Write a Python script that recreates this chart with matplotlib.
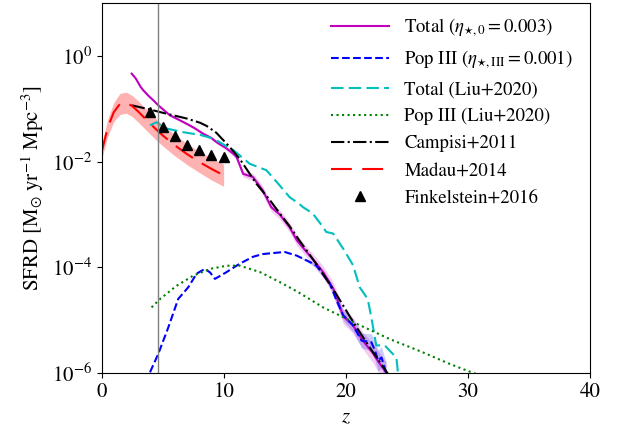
import matplotlib
matplotlib.use("Agg")
import matplotlib.pyplot as plt
import numpy as np

plt.rcParams['font.family'] = 'STIXGeneral'
plt.rcParams['mathtext.fontset'] = 'stix'

# Total SFRD from this model (log10 of Msun/yr/Mpc^3)
z_tot = [2.47, 2.8, 3.2, 3.42, 3.8, 4.24, 4.65, 5.1, 5.6, 6.3, 6.97, 7.6, 8.33, 9.0, 9.43, 10.2, 10.8,
         11.06, 11.6, 12.4, 13.2, 13.9, 14.6, 15.4, 16.0, 16.8, 17.6, 18.15, 18.97, 19.25, 19.8,
         20.6, 21.4, 22.2, 22.8, 23.3]
sfrd_tot = [-0.33, -0.42, -0.58, -0.645, -0.74, -0.835, -0.93, -1.02, -1.12, -1.20, -1.28, -1.36, -1.47,
            -1.55, -1.63, -1.74, -1.85, -1.91, -2.23, -2.29, -2.54, -2.86, -3.00, -3.24, -3.49, -3.71,
            -3.93, -4.09, -4.40, -4.57, -4.93, -5.10, -5.39, -5.62, -5.83, -5.99]
err_tot = [0.02, 0.02, 0.02, 0.02, 0.02, 0.02, 0.02, 0.02, 0.02, 0.02, 0.02, 0.02, 0.03, 0.03, 0.03,
           0.04, 0.04, 0.05, 0.06, 0.07, 0.08, 0.08, 0.09, 0.09, 0.10, 0.10, 0.11, 0.11, 0.12, 0.13,
           0.14, 0.15, 0.16, 0.18, 0.2, 0.2]

# Pop III SFRD from this model
z_p3 = [3.97, 4.65, 5.47, 6.28, 7.1, 7.79, 8.47, 8.9, 9.29, 10.25, 11.33, 12.42, 13.2, 14.06, 15.0,
        16.0, 17.06, 17.6, 17.9, 18.7, 19.25, 19.8, 20.6, 21.3, 22.1, 22.4, 22.65, 22.93, 23.3]
sfrd_p3 = [-5.99, -5.64, -5.14, -4.60, -4.38, -4.12, -4.03, -4.10, -4.22, -4.09, -3.93, -3.80, -3.75,
           -3.73, -3.71, -3.78, -3.90, -3.97, -4.06, -4.31, -4.63, -4.91, -5.10, -5.39, -5.42, -5.58,
           -5.77, -5.71, -5.99]
err_p3 = [0, 0, 0, 0, 0, 0, 0, 0, 0, 0, 0, 0, 0, 0, 0, 0, 0.03, 0.04, 0.05, 0.06, 0.08, 0.10, 0.12,
          0.14, 0.16, 0.18, 0.2, 0.2, 0.2]

# Liu & Bromm 2020
z_liu = [3.97, 4.5, 4.8, 5.33, 6.7, 8.06, 9.15, 10.5, 10.8, 12.15, 13.5, 14.6, 15.4, 16.2, 16.5, 17.3,
         18.15, 18.4, 18.97, 19.8, 20.6, 21.15, 21.8, 22.1, 22.5, 23.2, 23.6, 24.15, 24.3]
sfrd_liu = [-1.31, -1.25, -1.30, -1.37, -1.44, -1.49, -1.56, -1.74, -1.78, -2.04, -2.16, -2.45, -2.67,
            -2.80, -2.86, -2.98, -3.24, -3.33, -3.36, -3.65, -3.96, -4.38, -4.60, -4.95, -5.48, -5.48,
            -5.58, -5.71, -6.05]
z_liu3 = [4.1, 4.8, 6.15, 7.5, 8.9, 10.25, 11.33, 12.97, 14.6, 16.1, 18.15, 20.9, 23.6, 26.3, 28.5,
          30.3, 31.0]
sfrd_liu3 = [-4.76, -4.60, -4.35, -4.16, -4.03, -3.97, -3.97, -4.09, -4.28, -4.47, -4.76, -5.07, -5.36,
             -5.61, -5.83, -5.99, -6.05]

# Campisi et al. 2011
z_cam = [2.47, 3.97, 5.33, 6.97, 8.06, 8.6, 9.4, 10.5, 11.33, 12.7, 13.8, 14.6, 15.4, 16.2, 17.7,
         19.2, 20.7, 21.97, 23.4, 23.6]
sfrd_cam = [-0.93, -1.01, -1.09, -1.18, -1.26, -1.32, -1.45, -1.72, -1.95, -2.42, -2.73, -2.98, -3.22,
            -3.49, -3.97, -4.50, -5.07, -5.52, -6.00, -6.07]

# Madau & Dickinson 2014
z_md = [0, 0.5, 1, 1.5, 2, 2.5, 3, 3.5, 4, 4.5, 5, 6, 7, 8, 9, 10]
sfrd_md = [-1.824, -1.359, -1.062, -0.906, -0.880, -0.942, -1.047, -1.165, -1.281, -1.393, -1.498,
           -1.688, -1.855, -2.003, -2.135, -2.256]
err_md = [0.14, 0.16, 0.18, 0.2, 0.2, 0.2, 0.2, 0.2, 0.2, 0.2, 0.2, 0.2, 0.2, 0.2, 0.21, 0.21]

# Finkelstein 2016
z_fink = [4, 5, 6, 7, 8, 9, 10]
sfrd_fink = [-1.057, -1.342, -1.518, -1.689, -1.770, -1.865, -1.911]

z_reion = 4.6

def lin(a):
    return 10**np.array(a)

fig = plt.figure(figsize=(6.19, 4.32), dpi=100)
ax = fig.add_axes([0.164, 0.137, 0.789, 0.855])

ax.fill_between(z_md, lin(np.array(sfrd_md) - err_md), lin(np.array(sfrd_md) + err_md),
                color='r', alpha=0.3, lw=0)
ax.fill_between(z_tot, lin(np.array(sfrd_tot) - err_tot), lin(np.array(sfrd_tot) + err_tot),
                color='m', alpha=0.2, lw=0)
ax.fill_between(z_p3, lin(np.array(sfrd_p3) - err_p3), lin(np.array(sfrd_p3) + err_p3),
                color='b', alpha=0.2, lw=0)

ax.plot(z_tot, lin(sfrd_tot), 'm-', lw=1.5, label=r'Total ($\eta_{\star,0}=0.003$)')
ax.plot(z_p3, lin(sfrd_p3), 'b--', lw=1.5, label=r'Pop III ($\eta_{\star,\mathrm{III}}=0.001$)')
ax.plot(z_liu, lin(sfrd_liu), 'c', ls=(0, (6, 2.5)), lw=1.5, label='Total (Liu+2020)')
ax.plot(z_liu3, lin(sfrd_liu3), 'g:', lw=1.5, label='Pop III (Liu+2020)')
ax.plot(z_cam, lin(sfrd_cam), 'k-.', lw=1.5, label='Campisi+2011')
ax.plot(z_md, lin(sfrd_md), 'r', ls=(0, (10, 5)), lw=1.5, label='Madau+2014')
ax.plot(z_fink, lin(sfrd_fink), 'k^', ms=7, label='Finkelstein+2016')
ax.axvline(z_reion, color='gray', lw=1)

ax.set_yscale('log')
ax.set_xlim(0, 40)
ax.set_ylim(1e-6, 10)
ax.set_yticks([1e-6, 1e-4, 1e-2, 1])
ax.yaxis.set_minor_locator(matplotlib.ticker.NullLocator())
ax.set_xticks([0, 10, 20, 30, 40])
ax.tick_params(labelsize=15)
ax.set_xlabel(r'$z$', fontsize=15)
ax.set_ylabel(r'SFRD [M$_{\odot}$ yr$^{-1}$ Mpc$^{-3}$]', fontsize=15)
ax.legend(frameon=False, fontsize=13.5, handlelength=3.1, labelspacing=0.53,
          loc='upper right', bbox_to_anchor=(1.0, 1.01))

fig.savefig('out.png', dpi=100)
